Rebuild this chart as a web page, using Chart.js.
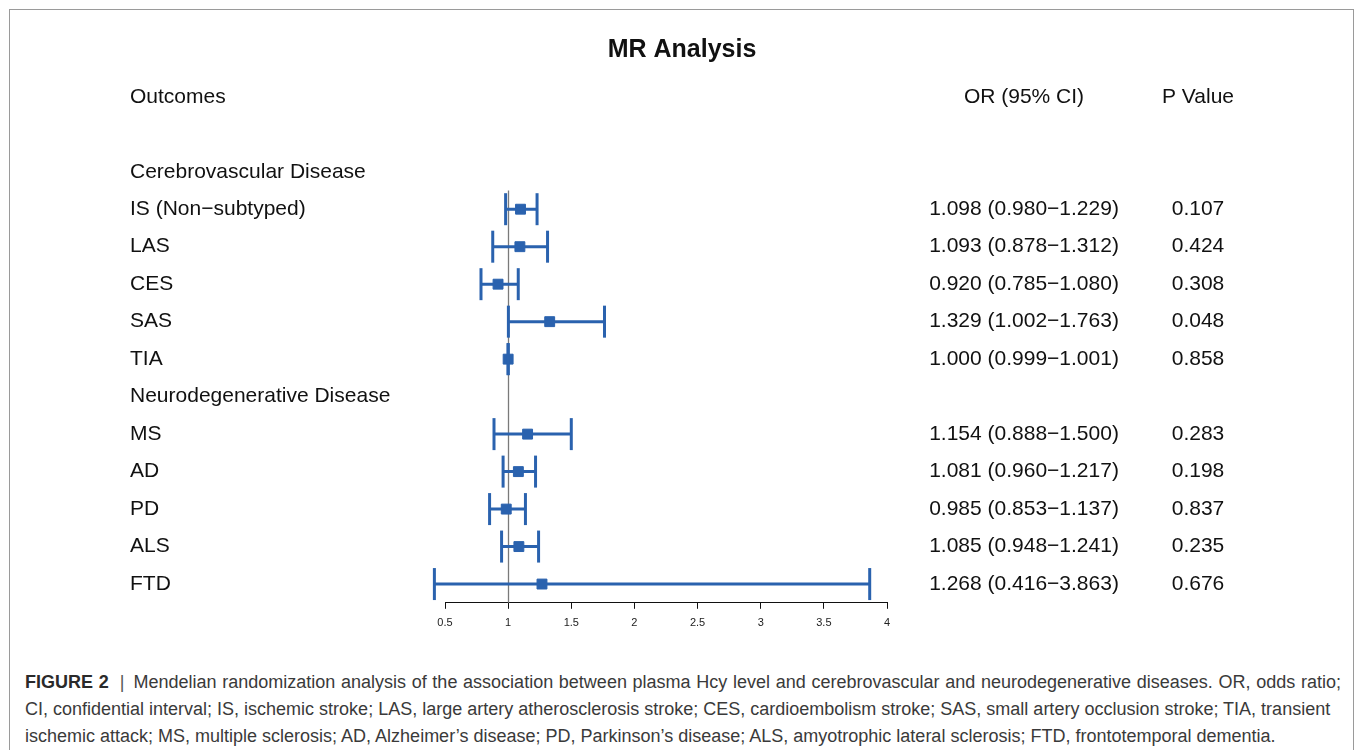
<!DOCTYPE html>
<html>
<head>
<meta charset="utf-8">
<script src="https://cdn.jsdelivr.net/npm/chart.js@4/dist/chart.umd.min.js"></script>
<style>
    body { margin: 0; background: #fff; width: 1355px; height: 750px; overflow: hidden; position: relative; font-family: "Liberation Sans", Arial, sans-serif; }
    #frame { position: absolute; left: 9px; top: 9px; width: 1343px; height: 760px; border: 1px solid #9a9a9a; border-bottom: none; }
    #wrap { position: absolute; left: 0; top: 0; width: 1355px; height: 650px; }
    .caption { position: absolute; left: 25px; top: 669px; font-size: 18px; line-height: 27px; color: #3a3a3a; white-space: nowrap; }
    .caption b { color: #2a2a2a; }
    .caption .first { word-spacing: 0.7px; }
    .caption .sep { color: #555; margin: 0 9px 0 11px; }
</style>
</head>
<body>
<div id="frame"></div>
<div id="wrap"><canvas id="chart-mr"></canvas></div>
<div class="caption">
    <div class="first"><b>FIGURE 2</b><span class="sep">|</span>Mendelian randomization analysis of the association between plasma Hcy level and cerebrovascular and neurodegenerative diseases. OR, odds ratio;</div>
    <div>CI, confidential interval; IS, ischemic stroke; LAS, large artery atherosclerosis stroke; CES, cardioembolism stroke; SAS, small artery occlusion stroke; TIA, transient</div>
    <div>ischemic attack; MS, multiple sclerosis; AD, Alzheimer’s disease; PD, Parkinson’s disease; ALS, amyotrophic lateral sclerosis; FTD, frontotemporal dementia.</div>
</div>
<script>
//---------------------data----------------------
var cerebro_outcomes = ['IS (Non\u2212subtyped)', 'LAS', 'CES', 'SAS', 'TIA'];
var neuro_outcomes = ['MS', 'AD', 'PD', 'ALS', 'FTD'];
var or_value = [1.098, 1.093, 0.920, 1.329, 1.000, 1.154, 1.081, 0.985, 1.085, 1.268];
var ci_low = [0.980, 0.878, 0.785, 1.002, 0.999, 0.888, 0.960, 0.853, 0.948, 0.416];
var ci_high = [1.229, 1.312, 1.080, 1.763, 1.001, 1.500, 1.217, 1.137, 1.241, 3.863];
var p_value = [0.107, 0.424, 0.308, 0.048, 0.858, 0.283, 0.198, 0.837, 0.235, 0.676];
var x_ticks = [0.5, 1, 1.5, 2, 2.5, 3, 3.5, 4];

//---------------------rows----------------------
var outcomes = cerebro_outcomes.concat(neuro_outcomes);
var row_labels = ['Outcomes', '', 'Cerebrovascular Disease']
    .concat(cerebro_outcomes)
    .concat(['Neurodegenerative Disease'])
    .concat(neuro_outcomes);

var blue = '#2a62ae';
var font_family = '"Liberation Sans", Arial, sans-serif';

function fmt(v) { return v.toFixed(3); }

// one dataset per outcome: the CI line with caps
var datasets = outcomes.map(function (name, i) {
    return {
        data: [{ x: ci_low[i], y: name }, { x: ci_high[i], y: name }],
        showLine: true,
        borderColor: blue,
        borderWidth: 3,
        pointStyle: 'line',
        pointRotation: 90,
        pointRadius: 16,
        pointBorderWidth: 3,
        pointBorderColor: blue,
        clip: false
    };
});
// point estimates
datasets.push({
    data: outcomes.map(function (name, i) { return { x: or_value[i], y: name }; }),
    pointStyle: 'rect',
    pointRadius: 7,
    pointBackgroundColor: blue,
    pointBorderColor: blue,
    pointBorderWidth: 1,
    clip: false
});

// vertical line at OR = 1
var ref_line = {
    id: 'ref_line',
    beforeDatasetsDraw: function (chart) {
        var xs = chart.scales.x, ys = chart.scales.y;
        var ctx = chart.ctx;
        var x = Math.round(xs.getPixelForValue(1)) + 0.5;
        var band = ys.getPixelForValue(1) - ys.getPixelForValue(0);
        var top = ys.getPixelForValue(3) - band / 2;
        ctx.save();
        ctx.strokeStyle = '#7a7a7a';
        ctx.lineWidth = 1.3;
        ctx.beginPath();
        ctx.moveTo(x, top);
        ctx.lineTo(x, chart.chartArea.bottom);
        ctx.stroke();
        ctx.restore();
    }
};

// OR (95% CI) and P value columns
var table_cols = {
    id: 'table_cols',
    afterDraw: function (chart) {
        var ys = chart.scales.y;
        var ctx = chart.ctx;
        ctx.save();
        ctx.font = '21px ' + font_family;
        ctx.fillStyle = '#111';
        ctx.textAlign = 'center';
        ctx.textBaseline = 'middle';
        ctx.fillText('OR (95% CI)', 1024, ys.getPixelForValue(0));
        ctx.fillText('P Value', 1198, ys.getPixelForValue(0));
        outcomes.forEach(function (name, i) {
            var y = ys.getPixelForValue(row_labels.indexOf(name));
            ctx.fillText(fmt(or_value[i]) + ' (' + fmt(ci_low[i]) + '\u2212' + fmt(ci_high[i]) + ')', 1024, y);
            ctx.fillText(fmt(p_value[i]), 1198, y);
        });
        ctx.restore();
    }
};

var ctx_mr = document.getElementById('chart-mr').getContext('2d');
var chart_mr = new Chart(ctx_mr, {
    type: 'scatter',
    data: { datasets: datasets },
    plugins: [ref_line, table_cols],
    options: {
        responsive: true,
        maintainAspectRatio: false,
        animation: false,
        events: [],
        layout: { padding: { left: 130, right: 121, top: 0, bottom: 12 } },
        plugins: {
            legend: { display: false },
            tooltip: { enabled: false },
            title: {
                display: true,
                text: 'MR Analysis',
                color: '#111',
                font: { family: font_family, size: 25, weight: 'bold' },
                padding: { top: 35, bottom: 13 }
            }
        },
        scales: {
            x: {
                type: 'linear',
                min: 0.5,
                max: 4,
                afterBuildTicks: function (scale) {
                    scale.ticks = x_ticks.map(function (v) { return { value: v }; });
                },
                grid: { display: true, drawOnChartArea: false, drawTicks: true, tickLength: 6, color: '#111', lineWidth: 1 },
                border: { display: true, color: '#111', width: 1 },
                ticks: {
                    font: { family: font_family, size: 11 },
                    color: '#222',
                    padding: 8,
                    maxRotation: 0,
                    callback: function (v) { return String(v); }
                }
            },
            y: {
                type: 'category',
                labels: row_labels,
                offset: true,
                afterFit: function (scale) { scale.width = 315; },
                grid: { display: false },
                border: { display: false },
                ticks: { font: { family: font_family, size: 21 }, color: '#111', crossAlign: 'far', autoSkip: false }
            },
            // empty right-hand space that holds the table columns
            y_right: {
                type: 'category',
                axis: 'y',
                position: 'right',
                labels: row_labels,
                offset: true,
                afterFit: function (scale) { scale.width = 347; },
                grid: { display: false },
                border: { display: false },
                ticks: { display: false }
            }
        }
    }
});
</script>
</body>
</html>
